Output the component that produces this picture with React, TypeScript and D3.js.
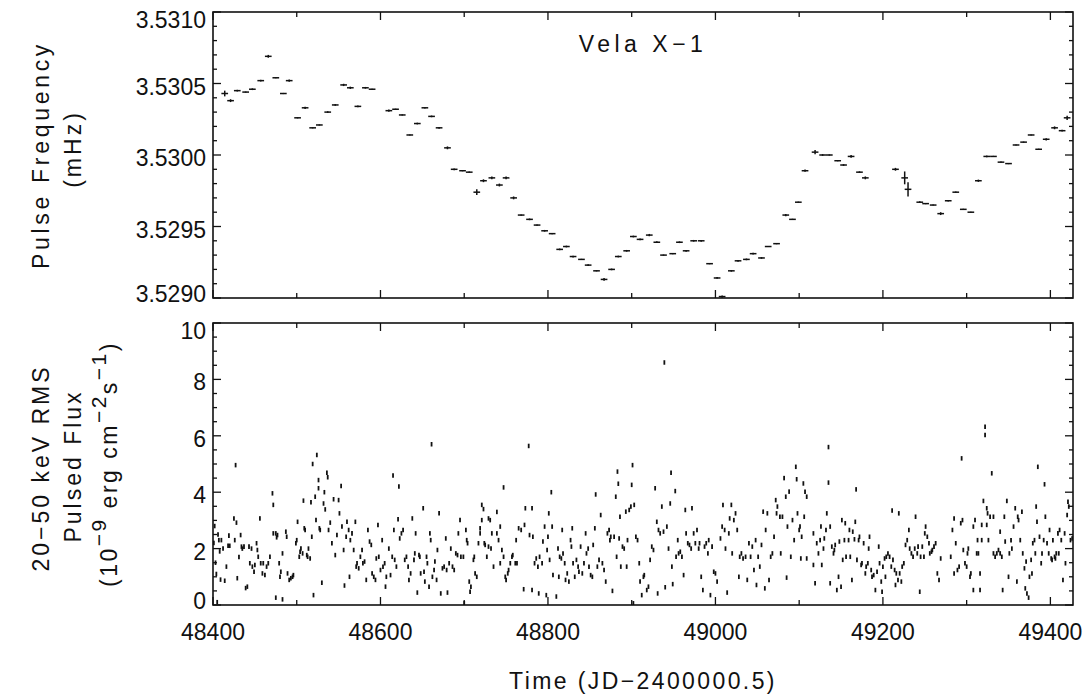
import React from 'react';
import * as d3 from 'd3';

// ---------- Top panel: pulse frequency (mHz) ----------
const freqTime = [48414,48421,48429,48439,48447,48457,48466,48475,48484,48491,48501,48510,48519,48527,48537,48546,48556,48564,48573,48582,48590,48610,48618,48626,48635,48644,48653,48661,48670,48680,48688,48698,48706,48715,48723,48733,48742,48750,48759,48768,48778,48787,48796,48805,48814,48822,48830,48840,48848,48858,48867,48876,48884,48894,48902,48910,48921,48930,48938,48949,48957,48965,48974,48983,48993,49002,49008,49019,49027,49037,49045,49055,49063,49073,49084,49092,49099,49107,49119,49128,49136,49146,49153,49162,49172,49179,49215,49226,49230,49244,49251,49260,49269,49278,49287,49296,49305,49314,49324,49332,49341,49350,49359,49368,49377,49386,49395,49405,49414,49420];
const freqValue = [3.53043,3.53038,3.53045,3.53044,3.53046,3.53052,3.53069,3.53054,3.53043,3.53052,
3.53026,3.53033,3.53019,3.53021,3.53030,3.53035,3.53049,3.53047,3.53034,3.53047,
3.53046,3.53031,3.53032,3.53028,3.53014,3.53022,3.53033,3.53027,3.53019,3.53005,
3.52990,3.52989,3.52988,3.52974,3.52982,3.52984,3.52979,3.52984,3.52970,3.52958,
3.52955,3.52951,3.52947,3.52945,3.52934,3.52936,3.52929,3.52927,3.52923,3.52919,
3.52913,3.52920,3.52929,3.52933,3.52943,3.52941,3.52944,3.52939,3.52930,3.52931,
3.52939,3.52933,3.52940,3.52940,3.52924,3.52914,3.52901,3.52919,3.52926,3.52927,
3.52931,3.52928,3.52936,3.52938,3.52958,3.52955,3.52967,3.52989,3.53002,3.53000,
3.53000,3.52996,3.52993,3.52999,3.52988,3.52984,3.52990,3.52984,3.52976,3.52967,
3.52966,3.52965,3.52959,3.52968,3.52974,3.52962,3.52960,3.52982,3.52999,3.52999,
3.52995,3.52994,3.53007,3.53009,3.53014,3.53004,3.53011,3.53019,3.53017,3.53026];
const freqErr = [0.00002,0.00001,0.000006,0.000004,0.000006,0.000006,0.00001,0.000004,0.000004,0.000008,
0.000004,0.000008,0.000004,0.000004,0.000006,0.000006,0.000008,0.000008,0.000006,0.000006,
0.000004,0.000008,0.000004,0.000004,0.000004,0.000006,0.000004,0.000006,0.000006,0.00001,
0.000006,0.000004,0.000004,0.00002,0.00001,0.00001,0.00001,0.00001,0.00001,0.000004,
0.000006,0.000004,0.000006,0.000004,0.000006,0.000006,0.000006,0.000004,0.000006,0.000004,
0.00001,0.000006,0.000006,0.000006,0.000006,0.000006,0.000008,0.000006,0.000004,0.000004,
0.000006,0.000006,0.000006,0.000006,0.000004,0.000006,0.000008,0.000006,0.000006,0.000006,
0.000006,0.000006,0.000004,0.000004,0.000008,0.000004,0.000004,0.000008,0.000015,0.000006,
0.000004,0.000004,0.000006,0.00001,0.000006,0.00001,0.00001,0.000045,0.00005,0.000006,
0.000004,0.000004,0.00001,0.000006,0.000004,0.000004,0.000004,0.000008,0.000006,0.000004,
0.000004,0.000004,0.000004,0.000004,0.000004,0.000004,0.000008,0.00001,0.000006,0.000015];
const freqHalfWidthDays = 4;

// ---------- Bottom panel: 20-50 keV RMS pulsed flux ----------
const fluxSegA: [number, number][] = [[48401,2.2],[48402,2.8],[48403,1.5],[48404,1.1],[48405,0.1],[48406,2.5],[48407,2.3],[48408,1.9],[48409,0.9],
[48410,2.3],[48412,2.0],[48414,0.86],[48416,1.36],[48418,2.1],[48419,2.46],[48420,2.1],[48425,3.07],[48426,2.3],[48427,4.96],[48428,2.92],[48429,0.95],[48431,1.7],[48433,2.48],[48434,2.07],[48435,2.0],[48437,2.07],[48439,0.6],[48441,0.65],[48443,2.07],[48444,1.48],[48446,2.0],[48447,1.36],[48449,1.18],[48450,1.42],[48452,2.19],[48453,1.95],[48454,1.71],[48456,3.07],[48457,1.48],[48459,1.12],[48460,1.48],[48462,1.06],[48464,1.36],[48466,1.48],[48468,1.71],[48471,3.96],[48472,3.55],[48472,2.54],[48475,2.54],[48475,0.26],[48476,2.4],[48477,2.48],[48479,1.48],[48480,1.0],[48481,1.18],[48483,1.83],[48483,0.2],[48487,2.6],[48488,2.42],[48489,1.12],[48491,0.89],[48493,0.95],[48495,1.0],[48496,1.06],[48499,2.19],[48500,2.3],[48501,2.95],[48503,1.71],[48504,1.89],[48505,2.0],[48507,1.83],[48508,3.7],[48509,2.72],[48510,2.66],[48512,1.77],[48513,1.71],[48514,2.0],[48516,1.65],[48517,3.64],[48518,2.42],[48519,5.0],[48520,0.35],[48522,3.84],[48523,3.01],[48524,5.32],[48526,4.43],[48526,4.14],[48527,2.72],[48528,2.66],[48530,0.79],[48532,3.6],[48533,4.0],[48534,3.39],[48536,4.69],[48537,4.53],[48538,2.66],[48540,2.92],[48542,2.19],[48544,3.75],[48546,1.77],[48548,2.48],[48550,3.72],[48551,3.25],[48553,4.22],[48554,2.78],[48556,1.95],[48557,0.69],[48559,2.42],[48560,2.95],[48562,2.66],[48563,1.0],[48564,2.3],[48566,2.54],[48568,1.95],[48570,2.95],[48571,1.36],[48572,1.48],[48574,1.3],[48576,1.71],[48578,1.95],[48579,1.48],[48581,1.54],[48583,0.89],[48585,2.66],[48587,2.25],[48589,2.13],[48590,1.12],[48592,1.0],[48594,0.89],[48595,1.65],[48597,2.84],[48598,1.71],[48600,1.24],[48602,2.3],[48603,1.36],[48605,1.48],[48606,0.65],[48607,1.0],[48610,2.0],[48612,1.06],[48614,1.71],[48615,4.59],[48616,2.66],[48617,1.6],[48619,1.36],[48621,3.04],[48622,4.2],[48623,2.36],[48625,2.54],[48627,2.66],[48629,1.6],[48631,1.71],[48633,1.36],[48634,0.89],[48636,1.12],[48638,3.07],[48640,1.6],[48641,1.83],[48642,2.54],[48644,0.44],[48646,1.77],[48647,1.71],[48648,1.12],[48651,3.43],[48652,1.18],[48653,0.83],[48655,1.71],[48656,1.48],[48658,0.65],[48659,2.54],[48660,2.3],[48661,5.7],[48662,1.0],[48664,1.24],[48665,1.54],[48667,0.89],[48668,1.95],[48670,3.25],[48672,0.41],[48674,1.3],[48676,1.36],[48678,2.36],[48679,1.24],[48680,0.44],[48682,1.48],[48684,2.0],[48686,1.36],[48688,1.24],[48690,1.83],[48692,1.77],[48693,2.54],[48695,3.01],[48696,1.71],[48699,1.71],[48700,0.06],[48702,2.66],[48703,2.3],[48704,2.19],[48706,0.83],[48707,0.47],[48708,0.65],[48711,1.6],[48712,1.71],[48713,1.12],[48715,1.0],[48717,2.19],[48719,2.54],[48719,2.72],[48721,3.55],[48721,3.01],[48723,3.4],[48724,2.19],[48725,2.13],[48727,1.71],[48729,2.07],[48729,3.07],[48731,3.01],[48732,2.0],[48733,2.54],[48735,1.36],[48739,3.3],[48739,2.54],[48741,2.3],[48743,1.48],[48743,2.78],[48745,1.95],[48747,4.17],[48747,1.71],[48749,1.0],[48750,0.89],[48752,1.12],[48753,1.24],[48755,1.48],[48757,1.71],[48758,1.77],[48761,1.48],[48762,2.3],[48763,1.48],[48765,2.72]];

const fluxSegB: [number, number][] = [[48768,2.66],[48771,0.56],[48772,2.84],[48773,3.43],[48777,5.64],[48778,2.48],[48781,0.53],[48781,3.43],[48782,2.42],[48784,1.48],[48786,1.65],[48788,1.36],[48789,0.41],[48790,1.71],[48793,1.48],[48794,2.25],[48796,2.78],[48798,0.35],[48799,1.95],[48800,2.42],[48801,3.25],[48802,1.6],[48804,4.0],[48805,2.78],[48806,1.06],[48810,0.3],[48812,2.0],[48813,1.0],[48814,1.71],[48816,1.65],[48817,2.66],[48818,1.83],[48820,1.48],[48821,0.89],[48823,1.12],[48825,0.83],[48827,2.3],[48828,2.07],[48829,2.72],[48830,1.48],[48832,1.0],[48834,1.6],[48836,1.36],[48837,1.18],[48839,2.07],[48841,1.12],[48843,1.48],[48845,2.54],[48846,1.83],[48848,2.0],[48849,1.36],[48851,1.06],[48853,1.0],[48854,2.13],[48856,2.72],[48857,3.92],[48859,1.36],[48861,1.6],[48863,3.19],[48865,1.48],[48867,1.24],[48869,0.83],[48871,2.54],[48873,2.66],[48874,2.3],[48875,2.42],[48877,0.5],[48879,2.42],[48881,3.84],[48882,1.71],[48883,4.73],[48884,4.3],[48885,2.36],[48886,3.13],[48887,1.36],[48889,2.07],[48891,2.0],[48893,3.31],[48894,1.36],[48895,2.3],[48897,3.37],[48899,3.49],[48900,4.26],[48901,4.96],[48902,0.06],[48903,3.55],[48905,2.42],[48907,2.3],[48909,1.48],[48910,0.83],[48912,0.35],[48914,1.0],[48915,1.06],[48918,0.53],[48920,0.65],[48922,1.6],[48924,2.07],[48926,1.95],[48928,4.14],[48930,2.95],[48931,0.41],[48932,2.66],[48934,2.54],[48936,3.49],[48938,2.6],[48939,8.6],[48940,0.63],[48942,2.78],[48944,2.0],[48946,3.6],[48947,4.69],[48948,1.36],[48949,0.74],[48952,4.04],[48953,1.71],[48955,2.3],[48956,1.83],[48958,1.89],[48960,1.71],[48962,1.06],[48964,3.37],[48965,2.54],[48967,2.19],[48969,2.13],[48971,2.0],[48972,3.43],[48974,2.54],[48976,2.19],[48978,2.66],[48980,2.0],[48981,2.19],[48983,1.0],[48985,0.53],[48987,2.07],[48989,2.19],[48991,1.83],[48992,2.3],[48994,0.35],[48996,2.07],[48998,1.18],[49000,1.12],[49002,0.83],[49006,2.36],[49008,2.78],[49009,3.55],[49011,2.66],[49012,2.0],[49014,0.44],[49016,2.54],[49017,3.07],[49019,3.55],[49020,1.83],[49022,3.01],[49024,3.25],[49026,2.66],[49028,1.0],[49029,1.71],[49031,1.83],[49033,1.65],[49036,1.71],[49038,0.89],[49040,2.19],[49042,1.71],[49044,2.07],[49046,1.24],[49048,2.3],[49049,0.71],[49051,1.71],[49053,1.36],[49055,2.13],[49057,3.31],[49059,0.59],[49060,2.66],[49062,3.25],[49064,0.89],[49066,1.71],[49068,1.83],[49070,2.42],[49072,3.72],[49073,3.25],[49074,3.49],[49077,3.13],[49078,1.83],[49080,3.13],[49082,4.5],[49084,3.84],[49085,0.97],[49086,2.78],[49088,4.02],[49090,1.71],[49092,3.01],[49094,2.3],[49096,4.9],[49097,4.46],[49098,3.25],[49100,2.66]];

const fluxSegC: [number, number][] = [[49101,2.78],[49102,1.65],[49103,2.42],[49105,4.31],[49106,3.13],[49107,4.02],[49109,3.84],[49109,1.65],[49117,1.42],[49117,2.54],[49119,0.77],[49121,2.19],[49123,1.83],[49125,2.3],[49126,2.78],[49127,1.42],[49129,2.0],[49130,2.36],[49132,2.66],[49133,3.25],[49135,5.6],[49135,4.34],[49137,0.77],[49137,2.78],[49139,2.07],[49141,1.83],[49142,1.95],[49143,2.13],[49145,0.53],[49147,1.0],[49148,2.25],[49150,0.65],[49151,3.01],[49152,1.6],[49154,2.3],[49155,2.9],[49156,1.71],[49159,2.3],[49160,2.66],[49161,1.71],[49163,0.89],[49164,2.6],[49166,2.33],[49167,2.95],[49168,4.1],[49169,1.6],[49171,2.3],[49172,2.42],[49174,1.42],[49175,1.48],[49177,2.19],[49179,1.12],[49180,1.36],[49182,1.48],[49183,2.0],[49184,2.42],[49186,1.24],[49187,1.0],[49189,1.06],[49191,0.53],[49193,1.18],[49195,2.07],[49196,1.48],[49198,0.83],[49199,0.47],[49200,1.36],[49202,1.65],[49203,1.0],[49204,1.71],[49206,1.83],[49208,1.71],[49210,1.36],[49211,3.35],[49212,1.6],[49214,1.24],[49215,0.71],[49216,1.12],[49218,0.89],[49219,3.25],[49220,1.12],[49222,0.83],[49223,1.36],[49225,1.48],[49227,2.13],[49229,2.3],[49231,2.66],[49232,2.0],[49234,1.83],[49236,1.71],[49238,2.0],[49239,3.13],[49241,1.83],[49242,2.07],[49244,0.47],[49245,1.71],[49247,2.07],[49249,1.71],[49250,2.54],[49251,2.78],[49253,2.42],[49255,2.19],[49256,1.83],[49258,1.89],[49259,1.95],[49261,2.07],[49263,2.19],[49265,1.12],[49267,0.89],[49269,1.65],[49281,1.71],[49283,2.66],[49285,3.07],[49285,1.12],[49287,2.19],[49289,1.24],[49291,1.36],[49293,2.9],[49294,5.2],[49295,3.01],[49296,1.95],[49298,1.48],[49300,1.36],[49301,1.83],[49302,2.0],[49304,1.0],[49305,1.12],[49308,0.53],[49308,2.78],[49310,3.01],[49312,1.83],[49313,2.3],[49314,1.83],[49316,1.12],[49316,0.53],[49318,2.3],[49318,2.84],[49320,3.69],[49322,6.03],[49322,6.32],[49324,3.43],[49324,2.84],[49325,3.25],[49326,2.3],[49328,3.13],[49330,4.67],[49332,3.13],[49332,1.83],[49334,1.71],[49336,1.83],[49338,1.95],[49340,2.6],[49340,1.83],[49342,1.71],[49343,0.53],[49345,3.13],[49346,2.25],[49348,3.69],[49350,1.0],[49351,1.83],[49353,2.3],[49354,2.0],[49356,2.78],[49358,3.43],[49360,0.83],[49361,3.13],[49362,3.01],[49364,2.3],[49366,3.31],[49367,1.83],[49369,1.3],[49370,0.59],[49371,1.54],[49372,0.41],[49374,0.26],[49375,1.0],[49377,1.6],[49378,1.12],[49379,2.19],[49381,2.3],[49382,1.83],[49383,3.49],[49384,2.95],[49385,4.9],[49387,2.42],[49389,1.48],[49390,1.83],[49392,2.3],[49393,4.28],[49394,3.13],[49396,2.19],[49398,1.83],[49399,2.66],[49401,1.65],[49402,1.6],[49403,2.3],[49405,1.71],[49406,1.65],[49407,1.83],[49409,2.54],[49410,1.83],[49411,2.66],[49413,2.3],[49415,0.89],[49417,2.54],[49418,1.48],[49420,3.19],[49421,3.66],[49422,3.49],[49424,2.3],[49426,2.36]];
const fluxErr = 0.08;

// ---------- Axes ----------
const timeDomain = [48400, 49427];
const timeTickValues = [48400, 48600, 48800, 49000, 49200, 49400];
const freqDomain = [3.529, 3.531];
const freqTickValues = [3.529, 3.5295, 3.53, 3.5305, 3.531];
const freqTickLabels = ['3.5290', '3.5295', '3.5300', '3.5305', '3.5310'];
const fluxDomain = [0, 10];
const fluxTickValues = [0, 2, 4, 6, 8, 10];

const FONT = '"Liberation Sans", Arial, Helvetica, sans-serif';

export default function App() {
  const W = 1088, H = 697;
  const L = 213, R = 1073;
  const t1 = 12, b1 = 298, t2 = 323, b2 = 605;
  const x = d3.scaleLinear().domain(timeDomain).range([L, R]);
  const y1 = d3.scaleLinear().domain(freqDomain).range([b1, t1]);
  const y2 = d3.scaleLinear().domain(fluxDomain).range([b2, t2]);

  const xMinor = d3.range(timeDomain[0], timeDomain[1] + 1, 100);
  const y1Minor = d3.range(0, 21).map(i => freqDomain[0] + i * 0.0001);
  const y2Minor = d3.range(0, 21).map(i => i * 0.5);

  const stroke = '#111';
  const fluxAll = [...fluxSegA, ...fluxSegB, ...fluxSegC];

  const xTicks = (top: number, bot: number, key: string) =>
    xMinor.map((v, i) => {
      const major = Math.round(v) % 200 === 0;
      const len = major ? 8 : 5;
      const xx = x(v);
      return (
        <g key={key + i}>
          <line x1={xx} x2={xx} y1={bot} y2={bot - len} stroke={stroke} strokeWidth={1.3} />
          <line x1={xx} x2={xx} y1={top} y2={top + len} stroke={stroke} strokeWidth={1.3} />
        </g>
      );
    });

  const yTicks = (vals: number[], scale: any, majorTest: (v: number) => boolean, key: string) =>
    vals.map((v, i) => {
      const yy = scale(v);
      const len = majorTest(v) ? 8 : 4;
      return (
        <g key={key + i}>
          <line x1={L} x2={L + len} y1={yy} y2={yy} stroke={stroke} strokeWidth={1.3} />
          <line x1={R} x2={R - len} y1={yy} y2={yy} stroke={stroke} strokeWidth={1.3} />
        </g>
      );
    });

  const clampLabel = (yy: number, top: number, bot: number) => Math.min(Math.max(yy + 3, top + 8), bot - 4);

  return (
    <svg width={W} height={H} style={{ position: 'absolute', left: 0, top: 0, background: '#fff' }} fontFamily={FONT}>
      <rect x={0} y={0} width={W} height={H} fill="#fff" />

      {/* ---- top panel ---- */}
      <rect x={L} y={t1} width={R - L} height={b1 - t1} fill="none" stroke={stroke} strokeWidth={1.6} />
      {xTicks(t1, b1, 'xt1')}
      {yTicks(y1Minor, y1, v => Math.abs(Math.round(v * 2000) - v * 2000) < 1e-6, 'yt1')}
      {freqTickValues.map((v, i) => (
        <text key={'fl' + i} x={206} y={clampLabel(y1(v), t1, b1)} textAnchor="end" dominantBaseline="central" fontSize={23} fill={stroke}>
          {freqTickLabels[i]}
        </text>
      ))}
      {freqTime.map((t, i) => (
        <g key={'fp' + i} stroke={stroke} strokeWidth={1.5}>
          <line x1={x(t - freqHalfWidthDays)} x2={x(t + freqHalfWidthDays)} y1={y1(freqValue[i])} y2={y1(freqValue[i])} />
          <line x1={x(t)} x2={x(t)} y1={y1(freqValue[i] - freqErr[i])} y2={y1(freqValue[i] + freqErr[i])} />
        </g>
      ))}
      <text x={643} y={52} textAnchor="middle" fontSize={23} letterSpacing={4.5} fill={stroke}>Vela X−1</text>

      {/* ---- bottom panel ---- */}
      <rect x={L} y={t2} width={R - L} height={b2 - t2} fill="none" stroke={stroke} strokeWidth={1.6} />
      {xTicks(t2, b2, 'xt2')}
      {yTicks(y2Minor, y2, v => v % 2 === 0, 'yt2')}
      {fluxTickValues.map((v, i) => (
        <text key={'ql' + i} x={206} y={clampLabel(y2(v), t2, b2)} textAnchor="end" dominantBaseline="central" fontSize={23} fill={stroke}>
          {v}
        </text>
      ))}
      {fluxAll.map(([t, v], i) => (
        <line key={'q' + i} x1={x(t)} x2={x(t)} y1={y2(Math.max(0, v - fluxErr))} y2={y2(v + fluxErr)} stroke={stroke} strokeWidth={1.8} />
      ))}

      {/* x tick labels */}
      {timeTickValues.map((v, i) => (
        <text key={'xl' + i} x={x(v)} y={640} textAnchor="middle" fontSize={23} fill={stroke}>{v}</text>
      ))}
      <text x={643} y={689} textAnchor="middle" fontSize={23} letterSpacing={2.4} fill={stroke}>Time (JD−2400000.5)</text>

      {/* y titles */}
      <text transform={`translate(49,${(t1 + b1) / 2}) rotate(-90)`} textAnchor="middle" fontSize={23} letterSpacing={3.7} fill={stroke}>Pulse Frequency</text>
      <text transform={`translate(81,${(t1 + b1) / 2 - 6}) rotate(-90)`} textAnchor="middle" fontSize={23} letterSpacing={3} fill={stroke}>(mHz)</text>

      <text transform={`translate(49,${(t2 + b2) / 2 + 4}) rotate(-90)`} textAnchor="middle" fontSize={23} letterSpacing={3} fill={stroke}>20−50 keV RMS</text>
      <text transform={`translate(81,${(t2 + b2) / 2 + 2}) rotate(-90)`} textAnchor="middle" fontSize={23} letterSpacing={3} fill={stroke}>Pulsed Flux</text>
      <text transform={`translate(117,${(t2 + b2) / 2}) rotate(-90)`} textAnchor="middle" fontSize={23} letterSpacing={2.5} fill={stroke}>
        <tspan>(10</tspan>
        <tspan dy={-11} fontSize={21}>−9</tspan>
        <tspan dy={11}> erg cm</tspan>
        <tspan dy={-11} fontSize={21}>−2</tspan>
        <tspan dy={11}>s</tspan>
        <tspan dy={-11} fontSize={21}>−1</tspan>
        <tspan dy={11}>)</tspan>
      </text>
    </svg>
  );
}
